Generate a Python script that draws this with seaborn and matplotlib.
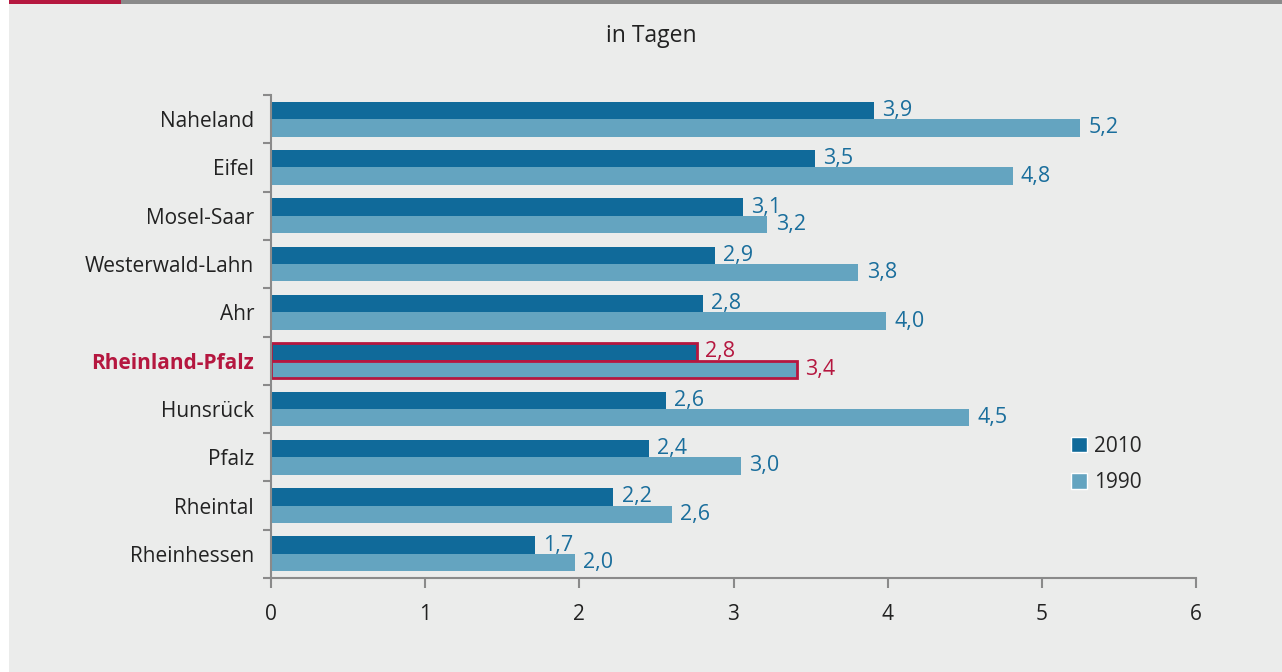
import matplotlib
matplotlib.use("Agg")
import matplotlib.pyplot as plt
import matplotlib.patches as mpatches
import pandas as pd
import seaborn as sns

regions = ["Naheland", "Eifel", "Mosel-Saar", "Westerwald-Lahn", "Ahr",
           "Rheinland-Pfalz", "Hunsrück", "Pfalz", "Rheintal", "Rheinhessen"]
values_2010 = [3.9, 3.5, 3.1, 2.9, 2.8, 2.8, 2.6, 2.4, 2.2, 1.7]
values_1990 = [5.2, 4.8, 3.2, 3.8, 4.0, 3.4, 4.5, 3.0, 2.6, 2.0]
# drawn bar lengths (the labels are rounded, bars are not)
bars_2010 = [3.91, 3.53, 3.06, 2.88, 2.80, 2.76, 2.56, 2.45, 2.22, 1.71]
bars_1990 = [5.25, 4.81, 3.22, 3.81, 3.99, 3.41, 4.53, 3.05, 2.60, 1.97]
years = ["2010", "1990"]
highlight = "Rheinland-Pfalz"

BG = "#EBECEB"
DARK = "#106A9A"
LIGHT = "#64A4C0"
LABEL_BLUE = "#1A6E9C"
RED = "#B5173F"
GREY = "#8A8A8A"
TEXT = "#222222"

df = pd.DataFrame({
    "Region": regions * 2,
    "Jahr": [years[0]] * len(regions) + [years[1]] * len(regions),
    "Wert": bars_2010 + bars_1990,
})

sns.set_style("white")
plt.rcParams["font.family"] = ["Open Sans", "DejaVu Sans"]

fig = plt.figure(figsize=(12.82, 6.72), dpi=100)
fig.patch.set_facecolor("white")
fig.patches.append(mpatches.Rectangle((9 / 1282, 0), 1, 1, transform=fig.transFigure,
                                      facecolor=BG, edgecolor="none", zorder=-10))
fig.patches.append(mpatches.Rectangle((9 / 1282, 1 - 3.5 / 672), 112 / 1282, 3.5 / 672,
                                      transform=fig.transFigure, facecolor=RED,
                                      edgecolor="none", zorder=-5))
fig.patches.append(mpatches.Rectangle((121 / 1282, 1 - 3.5 / 672), 1, 3.5 / 672,
                                      transform=fig.transFigure, facecolor=GREY,
                                      edgecolor="none", zorder=-5))

ax = fig.add_axes([271 / 1282, 1 - 578 / 672, (1196 - 271) / 1282, (578 - 95) / 672])
ax.set_facecolor(BG)

sns.barplot(data=df, y="Region", x="Wert", hue="Jahr", order=regions, hue_order=years,
            palette=[DARK, LIGHT], width=0.72, orient="h", ax=ax, saturation=1)

hi = regions.index(highlight)
labels_per_year = [values_2010, values_1990]
for cont, vals in zip(ax.containers, labels_per_year):
    txts = ax.bar_label(cont, labels=[f"{v:.1f}".replace(".", ",") for v in vals],
                        padding=6, fontsize=15.5, color=LABEL_BLUE)
    for i, (patch, t) in enumerate(zip(cont.patches, txts)):
        patch.set_edgecolor("none")
        if i == hi:
            patch.set_edgecolor(RED)
            patch.set_linewidth(2)
            t.set_color(RED)

ax.set_xlim(0, 6)
ax.set_ylim(len(regions) - 0.5, -0.5)
ax.set_xticks(range(7))
ax.set_yticks([i - 0.5 for i in range(len(regions) + 1)], minor=False)
ax.set_yticklabels([])
ax.set_yticks(range(len(regions)), minor=True)
ax.set_yticklabels(regions, minor=True)
ax.tick_params(axis="y", which="major", length=6, width=1.5, color=GREY, left=True)
ax.tick_params(axis="y", which="minor", length=0, pad=12.2, labelsize=15, colors=TEXT)
ax.tick_params(axis="x", length=7, width=1.5, color=GREY, bottom=True,
               labelsize=15, labelcolor=TEXT, pad=11.5)
for lbl in ax.get_yticklabels(minor=True):
    if lbl.get_text() == highlight:
        lbl.set_color(RED)
        lbl.set_fontweight("bold")

for side in ["top", "right"]:
    ax.spines[side].set_visible(False)
for side in ["left", "bottom"]:
    ax.spines[side].set_color(GREY)
    ax.spines[side].set_linewidth(1.5)
ax.set_xlabel("")
ax.set_ylabel("")

handles = [mpatches.Patch(facecolor=DARK, label="2010"),
           mpatches.Patch(facecolor=LIGHT, label="1990")]
ax.get_legend().remove()
fig.legend(handles=handles, loc="upper left", bbox_to_anchor=(1052 / 1282, 1 - 417 / 672),
           frameon=False, fontsize=15, handlelength=0.78, handleheight=0.78,
           handletextpad=0.35, labelspacing=0.75)

fig.text(651 / 1282, 1 - 36 / 672, "in Tagen", ha="center", va="center",
         fontsize=16.5, color=TEXT)

fig.savefig("out.png", dpi=100, facecolor=fig.get_facecolor())
